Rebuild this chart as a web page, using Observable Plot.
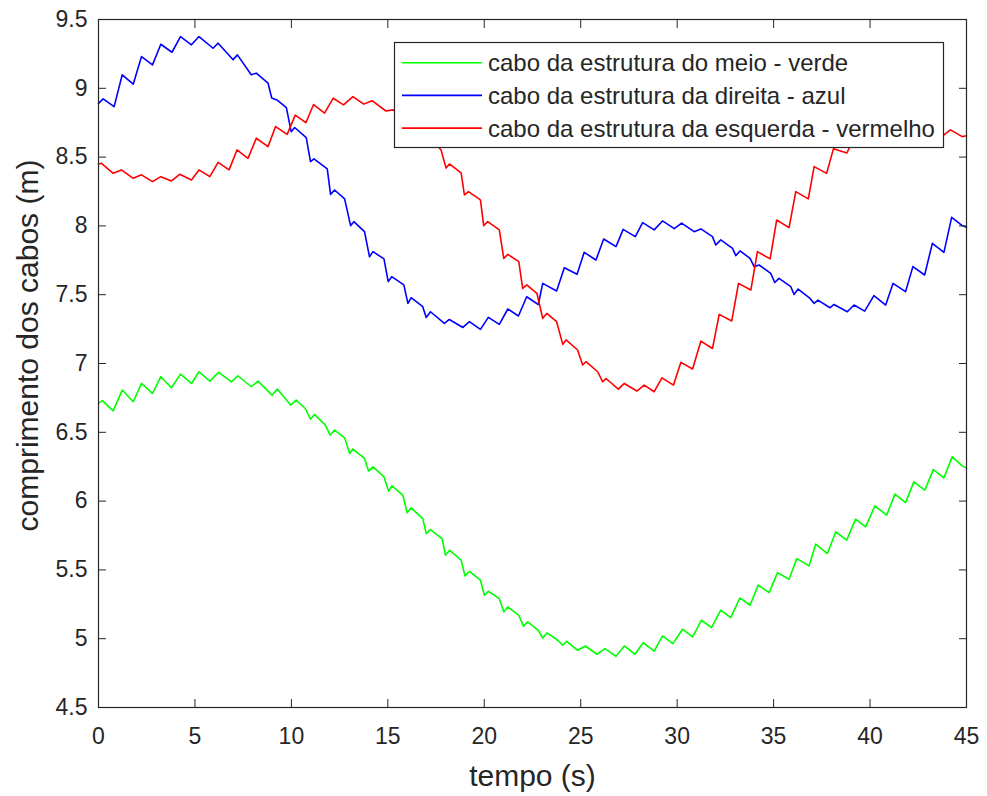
<!DOCTYPE html>
<html><head><meta charset="utf-8">
<script src="https://cdn.jsdelivr.net/npm/d3@7"></script>
<script src="https://cdn.jsdelivr.net/npm/@observablehq/plot@0.6"></script>
<style>
body{margin:0;background:#fff;}
</style></head><body><div id="chart"></div>
<script>
const seriesNames = ["cabo da estrutura do meio - verde", "cabo da estrutura da direita - azul", "cabo da estrutura da esquerda - vermelho"];
const seriesColors = ["#00ff00", "#0000ff", "#ff0000"];
const xTicks = [0, 5, 10, 15, 20, 25, 30, 35, 40, 45];
const yTicks = [4.5, 5, 5.5, 6, 6.5, 7, 7.5, 8, 8.5, 9, 9.5];
const xLabel = "tempo (s)";
const yLabel = "comprimento dos cabos (m)";

// [tempo, comprimento]
const green = [[0,6.71],[0.2,6.73],[0.76,6.656],[1.23,6.807],[1.8,6.722],[2.23,6.855],[2.8,6.782],[3.23,6.904],[3.78,6.824],[4.25,6.923],[4.82,6.855],[5.21,6.94],[5.77,6.872],[6.23,6.935],[6.89,6.867],[7.23,6.911],[7.92,6.831],[8.27,6.872],[9.0,6.77],[9.27,6.814],[9.96,6.698],[10.25,6.734],[10.72,6.673],[10.99,6.596],[11.2,6.63],[11.76,6.552],[12.01,6.48],[12.24,6.516],[12.76,6.46],[13.02,6.346],[13.19,6.378],[13.79,6.31],[14.0,6.218],[14.23,6.249],[14.8,6.176],[15.04,6.072],[15.21,6.11],[15.78,6.043],[16.0,5.915],[16.21,5.951],[16.81,5.873],[16.99,5.764],[17.21,5.793],[17.81,5.728],[17.99,5.607],[18.2,5.643],[18.8,5.571],[19.0,5.456],[19.23,5.49],[19.8,5.425],[20.01,5.316],[20.21,5.345],[20.78,5.291],[21.01,5.195],[21.22,5.231],[21.79,5.17],[22.03,5.091],[22.25,5.122],[22.8,5.061],[23.03,5.005],[23.25,5.042],[23.81,4.989],[24.07,4.952],[24.27,4.981],[24.84,4.916],[25.24,4.947],[25.84,4.887],[26.26,4.928],[26.83,4.872],[27.26,4.947],[27.81,4.887],[28.24,4.971],[28.81,4.909],[29.24,5.02],[29.78,4.964],[30.28,5.069],[30.8,5.013],[31.26,5.134],[31.78,5.08],[32.26,5.207],[32.78,5.153],[33.25,5.296],[33.78,5.243],[34.2,5.389],[34.77,5.335],[35.2,5.48],[35.8,5.432],[36.2,5.582],[36.84,5.529],[37.18,5.687],[37.79,5.619],[38.22,5.776],[38.79,5.716],[39.25,5.869],[39.77,5.813],[40.25,5.965],[40.86,5.898],[41.29,6.051],[41.84,5.989],[42.27,6.14],[42.84,6.08],[43.28,6.229],[43.83,6.169],[44.26,6.322],[44.78,6.256],[45,6.24]];

const blue = [[0,8.89],[0.24,8.923],[0.81,8.867],[1.23,9.098],[1.8,9.03],[2.23,9.231],[2.8,9.17],[3.23,9.32],[3.81,9.262],[4.25,9.376],[4.82,9.316],[5.21,9.376],[5.94,9.291],[6.2,9.328],[6.98,9.207],[7.2,9.243],[7.92,9.098],[8.18,9.11],[8.79,9.037],[8.98,8.93],[9.25,8.915],[9.74,8.86],[9.99,8.685],[10.17,8.715],[10.77,8.642],[10.99,8.467],[11.17,8.487],[11.86,8.414],[12.03,8.229],[12.24,8.261],[12.76,8.196],[13.07,8.002],[13.24,8.031],[13.79,7.958],[14.05,7.776],[14.23,7.813],[14.8,7.76],[15.02,7.595],[15.2,7.631],[15.83,7.571],[16.04,7.437],[16.21,7.478],[16.81,7.413],[16.99,7.335],[17.21,7.376],[17.93,7.291],[18.19,7.32],[18.89,7.262],[19.23,7.304],[19.8,7.248],[20.21,7.335],[20.78,7.284],[21.22,7.396],[21.77,7.345],[22.2,7.485],[22.8,7.429],[23.03,7.582],[23.75,7.527],[24.15,7.696],[24.81,7.648],[25.18,7.808],[25.79,7.752],[26.19,7.905],[26.83,7.849],[27.2,7.975],[27.83,7.922],[28.21,8.024],[28.81,7.971],[29.24,8.036],[29.85,7.98],[30.23,8.02],[30.88,7.958],[31.23,7.978],[31.83,7.922],[32.0,7.861],[32.26,7.898],[32.87,7.837],[33.04,7.784],[33.26,7.818],[33.78,7.764],[33.99,7.704],[34.25,7.716],[34.85,7.655],[35.06,7.589],[35.28,7.619],[35.89,7.558],[36.06,7.502],[36.27,7.541],[36.89,7.473],[37.1,7.437],[37.3,7.461],[37.92,7.405],[38.13,7.429],[38.82,7.376],[39.17,7.425],[39.72,7.381],[40.2,7.493],[40.81,7.425],[41.19,7.582],[41.84,7.522],[42.22,7.704],[42.83,7.643],[43.23,7.873],[43.83,7.808],[44.23,8.062],[44.78,8.002],[45,7.99]];

const red = [[0,8.45],[0.16,8.455],[0.76,8.382],[1.19,8.407],[1.8,8.346],[2.23,8.371],[2.8,8.322],[3.23,8.358],[3.78,8.327],[4.21,8.375],[4.82,8.334],[5.21,8.407],[5.77,8.358],[6.2,8.462],[6.77,8.407],[7.18,8.552],[7.75,8.491],[8.18,8.637],[8.79,8.576],[9.18,8.722],[9.78,8.665],[10.2,8.805],[10.75,8.75],[11.15,8.882],[11.72,8.82],[12.17,8.928],[12.7,8.88],[13.19,8.94],[13.75,8.885],[14.18,8.91],[14.9,8.835],[15.26,8.843],[15.85,8.79],[16.2,8.8],[16.8,8.72],[17.0,8.62],[17.2,8.64],[17.76,8.552],[18.02,8.42],[18.19,8.45],[18.8,8.386],[18.97,8.225],[19.18,8.249],[19.8,8.189],[19.97,8.002],[20.18,8.031],[20.78,7.971],[21.01,7.764],[21.22,7.793],[21.79,7.74],[21.99,7.546],[22.2,7.571],[22.73,7.509],[23.03,7.328],[23.24,7.364],[23.75,7.304],[24.07,7.139],[24.24,7.171],[24.84,7.098],[25.1,6.989],[25.27,7.013],[25.88,6.94],[26.14,6.867],[26.31,6.891],[26.95,6.814],[27.26,6.855],[27.91,6.8],[28.29,6.843],[28.81,6.795],[29.21,6.896],[29.81,6.843],[30.19,7.008],[30.8,6.96],[31.23,7.163],[31.83,7.109],[32.18,7.357],[32.83,7.309],[33.18,7.582],[33.82,7.534],[34.16,7.813],[34.82,7.76],[35.16,8.043],[35.8,7.987],[36.15,8.249],[36.8,8.196],[37.1,8.431],[37.75,8.382],[38.1,8.56],[38.8,8.53],[39.2,8.65],[39.8,8.6],[40.2,8.7],[40.8,8.65],[41.2,8.74],[41.8,8.69],[42.2,8.76],[42.8,8.7],[43.2,8.74],[43.83,8.661],[44.17,8.698],[44.78,8.649],[45,8.655]];

const rows = [];
[green, blue, red].forEach((s, i) => s.forEach(([t, v]) => rows.push({serie: seriesNames[i], t, v})));

const FONT = "'Liberation Sans', Arial, Helvetica, sans-serif";
const INK = "#262626";

const chart = Plot.plot({
  width: 987, height: 796,
  marginLeft: 98, marginRight: 21, marginTop: 19, marginBottom: 89,
  x: {domain: [0, 45]},
  y: {domain: [4.5, 9.5]},
  color: {domain: seriesNames, range: seriesColors},
  style: {fontFamily: FONT, color: INK, background: "#fff", overflow: "visible"},
  marks: [
    Plot.line(rows, {x: "t", y: "v", z: "serie", stroke: "serie", strokeWidth: 1.6}),
    Plot.frame({stroke: INK, strokeWidth: 1.2}),
    Plot.axisX({ticks: xTicks, tickSize: 0, tickPadding: 20, fontSize: 23, label: null, tickFormat: d => String(d)}),
    Plot.axisX({ticks: xTicks, tickSize: -8, tickFormat: () => "", label: null, stroke: INK}),
    Plot.axisX({ticks: xTicks, anchor: "top", tickSize: -8, tickFormat: () => "", label: null, stroke: INK}),
    Plot.axisY({ticks: yTicks, tickSize: 0, tickPadding: 11, fontSize: 23, label: null, tickFormat: d => String(d)}),
    Plot.axisY({ticks: yTicks, tickSize: -8, tickFormat: () => "", label: null, stroke: INK}),
    Plot.axisY({ticks: yTicks, anchor: "right", tickSize: -8, tickFormat: () => "", label: null, stroke: INK}),
    Plot.text([xLabel], {frameAnchor: "bottom", dy: 69, fontSize: 30, text: d => d, textAnchor: "middle", lineAnchor: "middle", fill: INK}),
    Plot.text([yLabel], {frameAnchor: "left", dx: -70, dy: -18, rotate: -90, fontSize: 30, text: d => d, textAnchor: "middle", lineAnchor: "middle", fill: INK})
  ]
});
document.getElementById("chart").appendChild(chart);

// legend box (MATLAB-style, drawn over the axes)
const svg = d3.select(chart);
const lg = svg.append("g").attr("font-family", FONT).attr("text-anchor", "start");
lg.append("rect").attr("x", 394.5).attr("y", 42.5).attr("width", 549).attr("height", 105)
  .attr("fill", "#fff").attr("stroke", INK).attr("stroke-width", 1.2);
seriesNames.forEach((name, i) => {
  const y = 62.7 + 32.7 * i;
  lg.append("line").attr("x1", 402).attr("x2", 482).attr("y1", y).attr("y2", y)
    .attr("stroke", seriesColors[i]).attr("stroke-width", 1.6);
  lg.append("text").attr("x", 488).attr("y", y + 8.5).attr("font-size", 24).attr("fill", INK)
    .attr("text-anchor", "start").text(name);
});
</script></body></html>
